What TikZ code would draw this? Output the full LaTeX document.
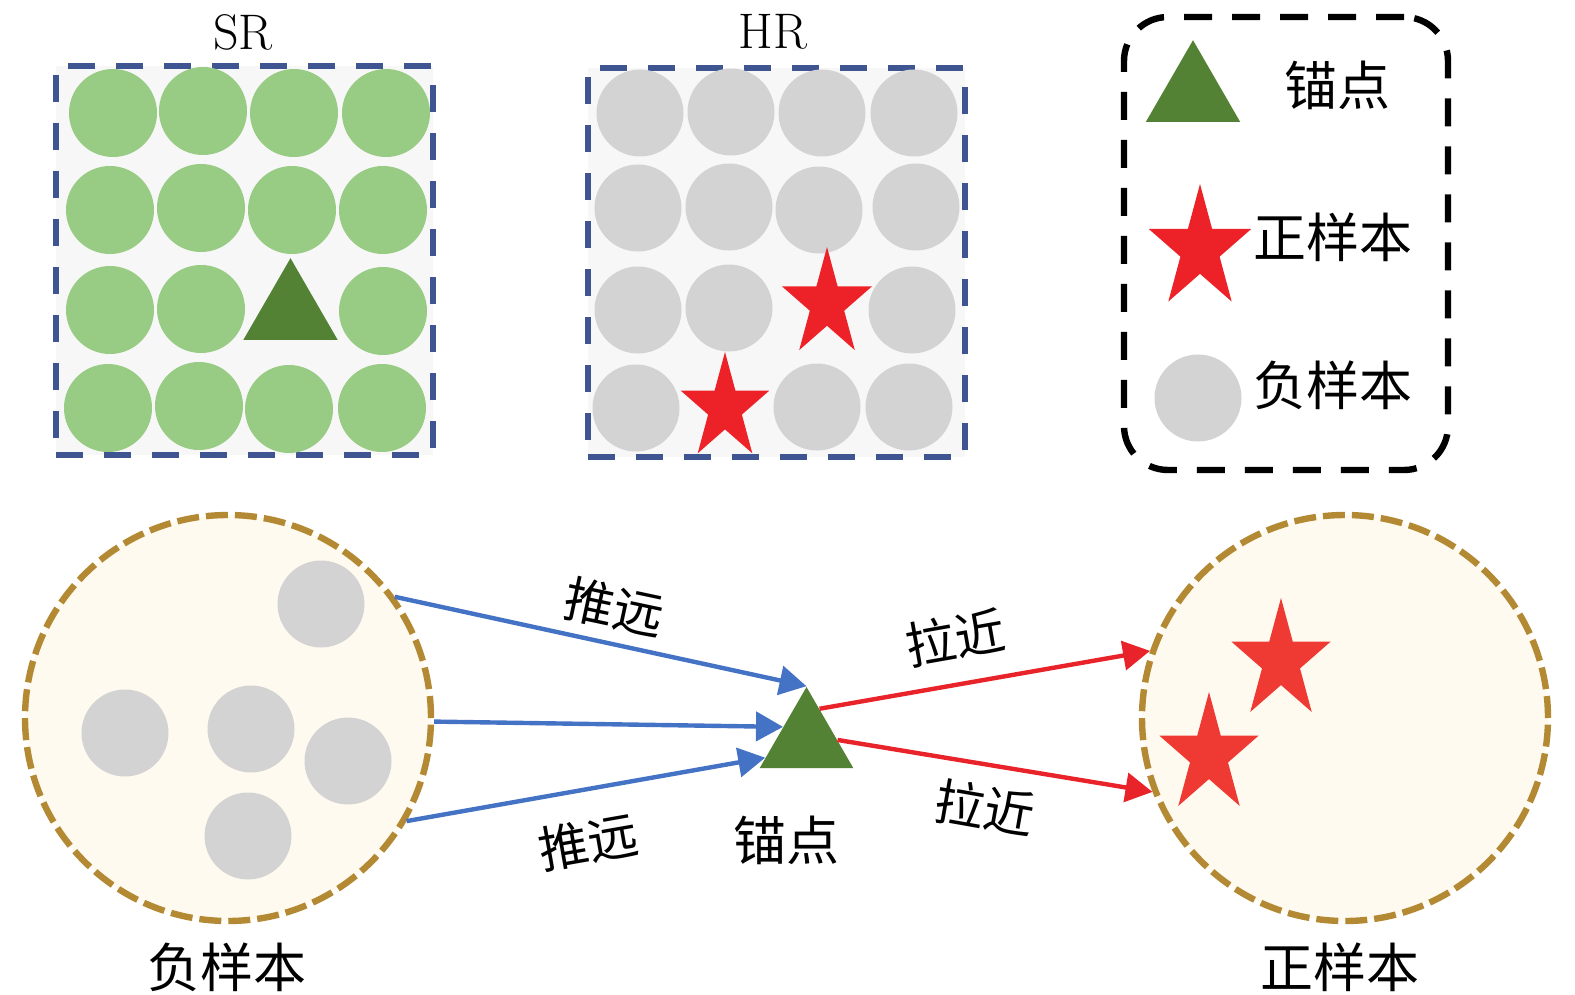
\documentclass[tikz,border=0pt]{standalone}
\usepackage{fontspec}
\newfontfamily\cjk{Noto Sans CJK SC}
\usetikzlibrary{shapes.geometric,arrows.meta}
\definecolor{lgreen}{HTML}{98CB83}
\definecolor{dgreen}{HTML}{548235}
\definecolor{lgray}{HTML}{D3D3D3}
\definecolor{boxfill}{HTML}{F7F7F7}
\definecolor{boxblue}{HTML}{3F5592}
\definecolor{starred}{HTML}{ED2228}
\definecolor{starred2}{HTML}{EE3A33}
\definecolor{cream}{HTML}{FEFAEF}
\definecolor{gold}{HTML}{B38A33}
\definecolor{pblue}{HTML}{4472C4}
\definecolor{pred}{HTML}{E8242A}
\newcommand{\mystar}[4]{%
  \begin{scope}[shift={(#1,#2)}, xscale=0.83]
    \fill[#4] (-90:#3) -- (-54:0.382*#3) -- (-18:#3) -- (18:0.382*#3) -- (54:#3)
      -- (90:0.382*#3) -- (126:#3) -- (162:0.382*#3) -- (198:#3) -- (234:0.382*#3) -- cycle;
  \end{scope}}
\begin{document}
\begin{tikzpicture}[x=0.5pt,y=-0.5pt,
  gcirc/.style={circle, fill=lgreen, inner sep=0pt, minimum size=44pt},
  grayc/.style={circle, fill=lgray, inner sep=0pt, minimum size=43.5pt},
  tri/.style={regular polygon, regular polygon sides=3, fill=dgreen, inner sep=0pt, minimum size=54.5pt},
  gridbox/.style={rectangle, fill=boxfill, draw=boxblue, line width=3pt, dash pattern=on 13.5pt off 10.5pt, minimum width=188.5pt, minimum height=194.5pt, inner sep=0pt},
  legendbox/.style={rectangle, rounded corners=22pt, draw=black, line width=3.2pt, dash pattern=on 14pt off 10pt, minimum width=162pt, minimum height=226.5pt, inner sep=0pt},
  setcirc/.style={circle, fill=cream, draw=gold, line width=3.2pt, dash pattern=on 11pt off 3.5pt, minimum size=203pt, inner sep=0pt},
  cjklabel/.style={font=\cjk\fontsize{26.5}{30}\selectfont, inner sep=0pt},
  arrowlabel/.style={font=\cjk\fontsize{25}{30}\selectfont, inner sep=0pt},
  latlabel/.style={font=\fontsize{25}{30}\selectfont, inner sep=0pt},
  push/.style={draw=pblue, line width=2.2pt, -{Triangle[length=13.5pt,width=14.5pt]}},
  pull/.style={draw=pred, line width=2.2pt, -{Triangle[length=13.5pt,width=14.5pt]}}
]
\useasboundingbox (0,0) rectangle (1575,995);

% ---------- titles ----------
\node[latlabel] (srt) at (243,32) {SR};
\node[latlabel] (hrt) at (773,32) {HR};

% ---------- SR grid ----------
\node[gridbox] (srbox) at (244.5,260.5) {};
\node[gcirc] (s11) at (113,113) {};
\node[gcirc] (s12) at (203,111) {};
\node[gcirc] (s13) at (294,113) {};
\node[gcirc] (s14) at (386,113) {};
\node[gcirc] (s21) at (110,210) {};
\node[gcirc] (s22) at (201,208) {};
\node[gcirc] (s23) at (292,210) {};
\node[gcirc] (s24) at (383,210) {};
\node[gcirc] (s31) at (110,310) {};
\node[gcirc] (s32) at (201,309) {};
\node[tri] (stri) at (290.5,312.7) {};
\node[gcirc] (s34) at (383,311) {};
\node[gcirc] (s41) at (108,408) {};
\node[gcirc] (s42) at (199,406) {};
\node[gcirc] (s43) at (289,409) {};
\node[gcirc] (s44) at (382,408) {};

% ---------- HR grid ----------
\node[gridbox] (hrbox) at (776.5,262.5) {};
\node[grayc] (h11) at (640,113) {};
\node[grayc] (h12) at (731,112) {};
\node[grayc] (h13) at (822,113) {};
\node[grayc] (h14) at (914,113) {};
\node[grayc] (h21) at (638,208) {};
\node[grayc] (h22) at (729,207) {};
\node[grayc] (h23) at (819,210) {};
\node[grayc] (h24) at (916,207) {};
\node[grayc] (h31) at (638,310) {};
\node[grayc] (h32) at (729,308) {};
\node[grayc] (h34) at (912,310) {};
\node[grayc] (h41) at (636,408) {};
\node[grayc] (h43) at (817,407) {};
\node[grayc] (h44) at (909,407) {};
\mystar{827}{304}{57}{starred}
\mystar{725}{408}{56}{starred}

% ---------- legend ----------
\node[legendbox] (legend) at (1286,243.5) {};
\node[tri] (ltri) at (1193,94.7) {};
\node[cjklabel] (lanc) at (1337,85) {锚点};
\mystar{1200}{249}{65}{starred}
\node[cjklabel] (lpos) at (1333,237) {正样本};
\node[grayc] (lneg) at (1198,398) {};
\node[cjklabel] (lnegt) at (1333,385) {负样本};

% ---------- bottom sets ----------
\node[setcirc] (neg) at (228,718) {};
\node[grayc] (n1) at (321,604) {};
\node[grayc] (n2) at (125,733) {};
\node[grayc] (n3) at (251,729) {};
\node[grayc] (n4) at (348,761) {};
\node[grayc] (n5) at (248,836) {};
\node[cjklabel] (negt) at (227,967) {负样本};

\node[setcirc] (pos) at (1345,718) {};
\mystar{1281}{661}{63}{starred2}
\mystar{1209}{755}{63}{starred2}
\node[cjklabel] (post) at (1340,967) {正样本};

% ---------- anchor ----------
\node[tri, minimum size=54pt] (anc) at (806.5,741) {};
\node[cjklabel] (anct) at (786,840) {锚点};

% ---------- connectors ----------
\draw[push] (neg.36) -- (anc.corner 1);
\draw[push] (neg.-1) -- (anc.149);
\draw[push] (neg.-30) -- (anc.202);
\draw[pull] (anc.68) -- (pos.161);
\draw[pull] (anc.2) -- (pos.201);

% ---------- connector labels ----------
\node[arrowlabel, rotate=-12] (l1) at (614,607) {推远};
\node[arrowlabel, rotate=10] (l2) at (588,842) {推远};
\node[arrowlabel, rotate=10] (l3) at (955,638) {拉近};
\node[arrowlabel, rotate=-10] (l4) at (985,808) {拉近};
\end{tikzpicture}
\end{document}
